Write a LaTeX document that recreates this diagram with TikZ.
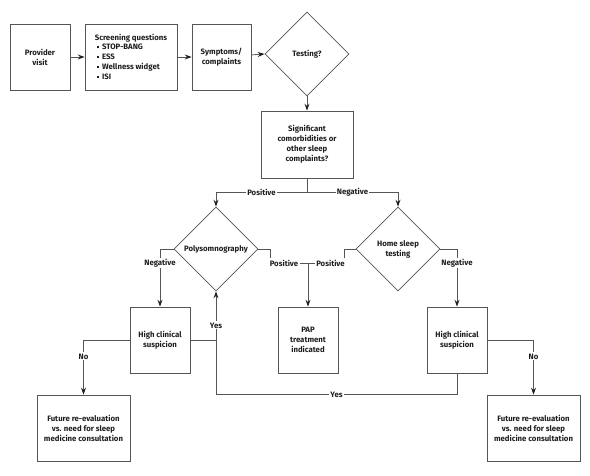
\documentclass[tikz,border=0pt]{standalone}
\usepackage{fontspec}
\setmainfont{Fira Sans}
\usepackage{tikz}
\usetikzlibrary{shapes.geometric, arrows.meta, positioning}
\usetikzlibrary{calc}
\usepackage{xcolor}
\definecolor{linegray}{HTML}{555555}
\definecolor{textgray}{HTML}{1E1E1E}
\newcommand{\sqbul}{\raisebox{1.5pt}{\rule{2.2pt}{2.2pt}}\hspace{3pt}}

\begin{document}
\begin{tikzpicture}[x=1pt, y=-1pt,
		every node/.style={font=\fontsize{7.8}{10}\selectfont\bfseries, text=textgray},
		box/.style={draw=linegray, line width=0.8pt, minimum width=#1, minimum height=66pt, inner sep=2pt, align=center},
		box/.default=60pt,
		decide/.style={draw=linegray, line width=0.8pt, diamond, minimum size=84pt, inner sep=0pt, align=center},
		arr/.style={draw=linegray, line width=0.8pt, -{Stealth[length=7pt, width=5pt, inset=2.5pt, color=textgray]}},
		ln/.style={draw=linegray, line width=0.8pt},
		lbl/.style={fill=white, inner sep=1.2pt}]
		\useasboundingbox (0,0) rectangle (590,476);

		\draw[draw=none] (40,57)      node[box] (pv) {Provider\\visit}
		(131,57)    node[box=92pt, align=left] (sq) {Screening questions\\[-0.5pt]
			\hspace{2pt}\sqbul STOP-BANG\\ \hspace{2pt}\sqbul ESS\\ \hspace{2pt}\sqbul Wellness widget\\ \hspace{2pt}\sqbul ISI}
		(221.5,57)  node[box=59pt] (sc) {Symptoms/\\complaints}
		(307,54)    node[decide] (test) {Testing?}
		(307,144.5) node[box=92pt, minimum height=67pt] (sig) {Significant\\comorbidities or\\other sleep\\complaints?}
		(216,249)   node[decide] (psg) {Polysomnography}
		(398,249)   node[decide] (hst) {Home sleep\\testing}
		(160,340)   node[box] (hcl) {High clinical\\suspicion}
		(308,340)   node[box] (pap) {PAP\\treatment\\indicated}
		(457,340)   node[box] (hcr) {High clinical\\suspicion}
		(83.5,428)  node[box=93pt] (fl) {Future re-evaluation\\vs. need for sleep\\medicine consultation}
		(533.5,428) node[box=93pt] (fr) {Future re-evaluation\\vs. need for sleep\\medicine consultation};

		\draw[arr] (pv) -- (sq);
		\draw[arr] (sq) -- (sc);
		\draw[arr] (sc) -- (test.west);
		\draw[arr] (test.south) -- (sig.north);

		\draw[ln] (sig.south) -- ++(0,14) coordinate (br);
		\draw[arr] (br) -| node[lbl, pos=0.25] (lpos) {Positive} (psg.north);
		\draw[arr] (br) -| node[lbl, pos=0.25] (lneg) {Negative} (hst.north);

		\draw[arr] (psg.west) -| node[lbl, pos=0.62] (pneg) {Negative} (hcl.north);
		\draw[arr] (hst.east) -| node[lbl, pos=0.62] (hneg) {Negative} (hcr.north);

		\node[lbl] (ppos) at (284,263) {Positive};
		\node[lbl] (hpos) at (330.5,263) {Positive};
		\draw[ln] (psg.east) -| ([xshift=2pt]ppos.north west);
		\draw[ln] (hst.west) -| ([xshift=-2pt]hpos.north east);
		\draw[ln] (ppos.east) -- (hpos.west);
		\draw[arr] (pap.north |- ppos.east) -- (pap.north);

		\draw[arr] (hcl.west) -| node[lbl, pos=0.65] (lno) {No} (fl.north);
		\draw[arr] (hcr.east) -| node[lbl, pos=0.65] (rno) {No} (fr.north);

		\coordinate (jn) at (hcl.east -| psg.south);
		\draw[ln] (hcr.south) -- ++(0,21) -| node[lbl, pos=0.25] (ryes) {Yes} (jn);
		\draw[arr] (hcl.east) -| node[lbl, pos=0.65] (lyes) {Yes} (psg.south);
	\end{tikzpicture}
\end{document}
